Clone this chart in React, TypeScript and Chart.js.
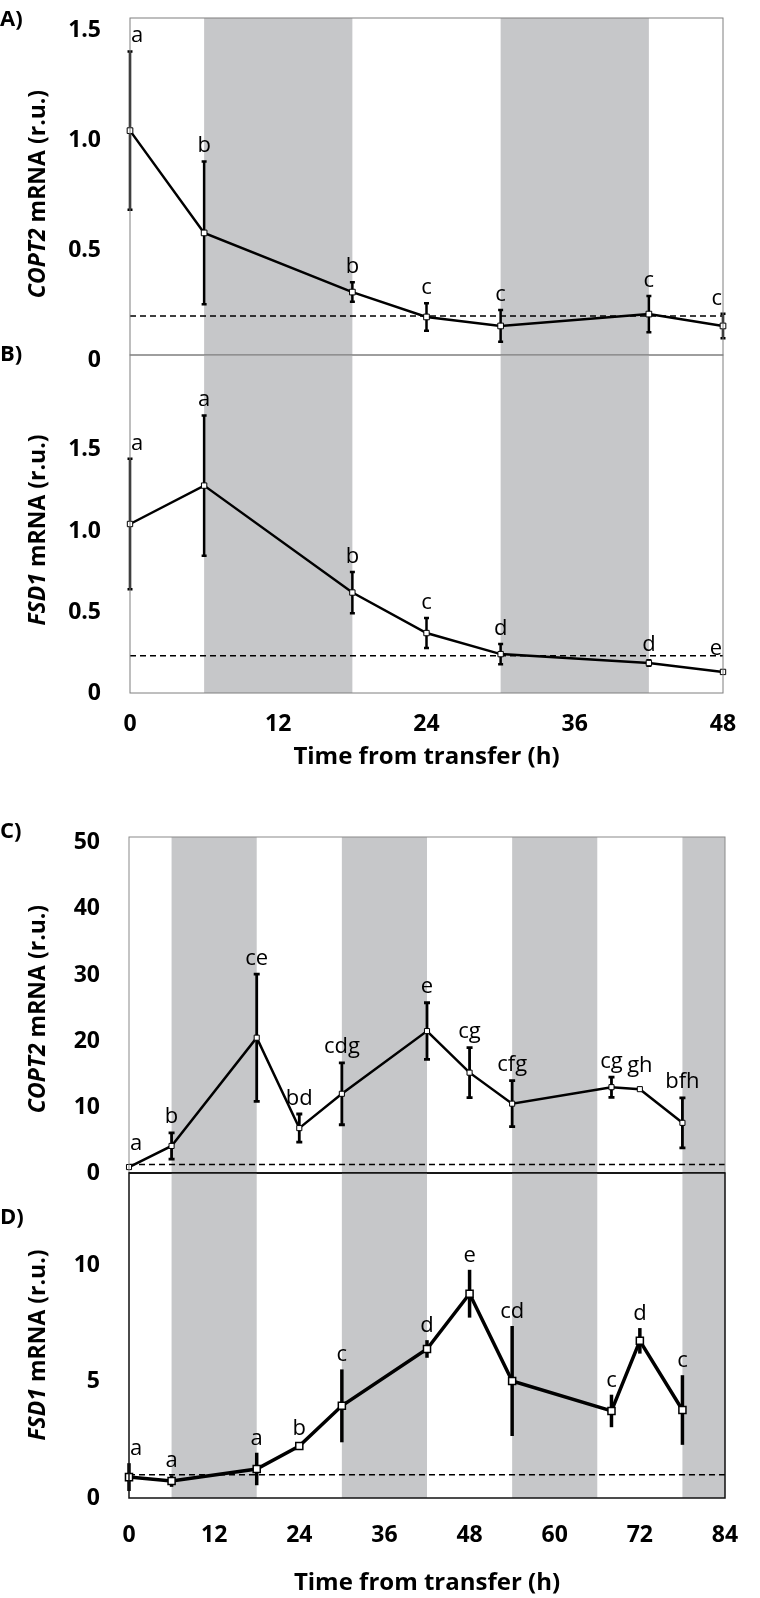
import React, { useEffect, useRef } from 'react';
import { Chart, registerables } from 'chart.js';

Chart.register(...registerables);

// ---------- Data ----------
const timeAB = [0, 6, 18, 24, 30, 42, 48];
const copt2AB = [1.02, 0.555, 0.286, 0.173, 0.132, 0.186, 0.132];
const copt2ABErr = [0.365, 0.33, 0.05, 0.068, 0.078, 0.088, 0.061];
const copt2ABLetters = ['a', 'b', 'b', 'c', 'c', 'c', 'c'];
const copt2ABRef = 0.177;

const fsd1AB = [1.043, 1.28, 0.62, 0.37, 0.24, 0.185, 0.13];
const fsd1ABErr = [0.41, 0.44, 0.135, 0.1, 0.07, 0.025, 0];
const fsd1ABLetters = ['a', 'a', 'b', 'c', 'd', 'd', 'e'];
const fsd1ABRef = 0.23;

const timeCD = [0, 6, 18, 24, 30, 42, 48, 54, 68, 72, 78];
const copt2CD = [0.9, 4.1, 20.5, 6.8, 12.0, 21.5, 15.2, 10.5, 13.0, 12.7, 7.6];
const copt2CDErr = [0, 2.2, 9.85, 2.35, 4.9, 4.5, 4.0, 3.7, 1.75, 0, 4.0];
const copt2CDLetters = ['a', 'b', 'ce', 'bd', 'cdg', 'e', 'cg', 'cfg', 'cg', 'gh', 'bfh'];
const copt2CDRef = 1.3;

const fsd1CD = [0.9, 0.73, 1.25, 2.24, 3.97, 6.42, 8.8, 5.04, 3.75, 6.77, 3.79];
const fsd1CDErr = [0.6, 0.25, 0.7, 0.15, 1.57, 0.38, 1.03, 2.37, 0.7, 0.55, 1.5];
const fsd1CDLetters = ['a', 'a', 'a', 'b', 'c', 'd', 'e', 'cd', 'c', 'd', 'c'];
const fsd1CDRef = 1.0;

const darkPeriodsAB = [[6, 18], [30, 42]];
const darkPeriodsCD = [[6, 18], [30, 42], [54, 66], [78, 84]];

const xTicksAB = [0, 12, 24, 36, 48];
const xTicksCD = [0, 12, 24, 36, 48, 60, 72, 84];
const yTicksA = [0, 0.5, 1.0, 1.5];
const yTicksB = [0, 0.5, 1.0, 1.5];
const yTicksC = [0, 10, 20, 30, 40, 50];
const yTicksD = [0, 5, 10];

const xTitle = 'Time from transfer (h)';
const yTitleRest = ' mRNA (r.u.)';

// ---------- Styles ----------
const FONT = '"Open Sans", sans-serif';
const BAND = '#c6c7c9';

type Spec = {
  top: number; height: number;
  pad: { top: number; right: number; bottom: number; left: number };
  yWidth: number; xMax: number; xTicks: number[]; showX: boolean;
  xHeight?: number; xTickPad?: number; xTitlePad?: number;
  yMax: number; yTicks: number[]; yLabelOffset: number; decimals: number;
  times: number[]; values: number[]; errs: number[]; letters: string[]; ref: number;
  bands: number[][];
  lineWidth: number; pointRadius: number; pointBorder: number; errWidth: number; capHalf: number;
  frameColor: string; frameWidth: number; bottomColor?: string; bottomWidth?: number;
  gene: string; titleCy: number; panel: string; panelCy: number;
};

const specs: Spec[] = [
  {
    top: 0, height: 375, pad: { top: 18, right: 37, bottom: 20, left: 0 },
    yWidth: 130, xMax: 48, xTicks: xTicksAB, showX: false,
    yMax: 1.532, yTicks: yTicksA, yLabelOffset: 5, decimals: 1,
    times: timeAB, values: copt2AB, errs: copt2ABErr, letters: copt2ABLetters, ref: copt2ABRef,
    bands: darkPeriodsAB, lineWidth: 2.5, pointRadius: 4, pointBorder: 1, errWidth: 2.5, capHalf: 2.5,
    frameColor: '#7f7f7f', frameWidth: 1,
    gene: 'COPT2', titleCy: 194, panel: 'A)', panelCy: 20,
  },
  {
    top: 340, height: 460, pad: { top: 15, right: 37, bottom: 0, left: 0 },
    yWidth: 130, xMax: 48, xTicks: xTicksAB, showX: true, xHeight: 107, xTickPad: 18, xTitlePad: 28,
    yMax: 2.086, yTicks: yTicksB, yLabelOffset: 0, decimals: 1,
    times: timeAB, values: fsd1AB, errs: fsd1ABErr, letters: fsd1ABLetters, ref: fsd1ABRef,
    bands: darkPeriodsAB, lineWidth: 2.5, pointRadius: 3.8, pointBorder: 1, errWidth: 2.5, capHalf: 2.5,
    frameColor: '#7f7f7f', frameWidth: 1,
    gene: 'FSD1', titleCy: 530, panel: 'B)', panelCy: 355,
  },
  {
    top: 820, height: 370, pad: { top: 17, right: 35, bottom: 17, left: 0 },
    yWidth: 129, xMax: 84, xTicks: xTicksCD, showX: false,
    yMax: 50.9, yTicks: yTicksC, yLabelOffset: 0, decimals: 0,
    times: timeCD, values: copt2CD, errs: copt2CDErr, letters: copt2CDLetters, ref: copt2CDRef,
    bands: darkPeriodsCD, lineWidth: 2.5, pointRadius: 3.6, pointBorder: 1, errWidth: 2.8, capHalf: 3,
    frameColor: '#8a8a8a', frameWidth: 1, bottomColor: '#000', bottomWidth: 1.5,
    gene: 'COPT2', titleCy: 1009, panel: 'C)', panelCy: 832,
  },
  {
    top: 1160, height: 438, pad: { top: 13, right: 35, bottom: 0, left: 0 },
    yWidth: 129, xMax: 84, xTicks: xTicksCD, showX: true, xHeight: 100, xTickPad: 24, xTitlePad: 0,
    yMax: 14, yTicks: yTicksD, yLabelOffset: 0, decimals: 0,
    times: timeCD, values: fsd1CD, errs: fsd1CDErr, letters: fsd1CDLetters, ref: fsd1CDRef,
    bands: darkPeriodsCD, lineWidth: 3.5, pointRadius: 5, pointBorder: 1.5, errWidth: 3.5, capHalf: 0,
    frameColor: '#111', frameWidth: 1.5,
    gene: 'FSD1', titleCy: 1345, panel: 'D)', panelCy: 1218,
  },
];

function makeDeco(spec: Spec) {
  return {
    id: 'deco',
    beforeDatasetsDraw(chart: any) {
      const { ctx, chartArea: a, scales } = chart;
      const x = scales.x, y = scales.y;
      ctx.save();
      ctx.fillStyle = BAND;
      for (const [s, e] of spec.bands) {
        const x0 = x.getPixelForValue(s);
        const x1 = x.getPixelForValue(e);
        ctx.fillRect(x0, a.top, x1 - x0, a.bottom - a.top);
      }
      ctx.strokeStyle = '#000';
      ctx.lineWidth = spec.errWidth;
      ctx.lineCap = 'butt';
      spec.times.forEach((t, i) => {
        const e = spec.errs[i];
        if (!e) return;
        const px = x.getPixelForValue(t);
        const yt = y.getPixelForValue(spec.values[i] + e);
        const yb = y.getPixelForValue(spec.values[i] - e);
        ctx.beginPath();
        ctx.moveTo(px, yt);
        ctx.lineTo(px, yb);
        if (spec.capHalf) {
          ctx.moveTo(px - spec.capHalf, yt + spec.errWidth / 2);
          ctx.lineTo(px + spec.capHalf, yt + spec.errWidth / 2);
          ctx.moveTo(px - spec.capHalf, yb - spec.errWidth / 2);
          ctx.lineTo(px + spec.capHalf, yb - spec.errWidth / 2);
        }
        ctx.stroke();
      });
      ctx.restore();
    },
    afterDatasetsDraw(chart: any) {
      const { ctx, chartArea: a, scales } = chart;
      const x = scales.x, y = scales.y;
      ctx.save();
      // frame
      ctx.strokeStyle = spec.frameColor;
      ctx.lineWidth = spec.frameWidth;
      ctx.strokeRect(a.left, a.top, a.right - a.left, a.bottom - a.top);
      if (spec.bottomColor) {
        ctx.strokeStyle = spec.bottomColor;
        ctx.lineWidth = spec.bottomWidth || 1;
        ctx.beginPath();
        ctx.moveTo(a.left, a.bottom);
        ctx.lineTo(a.right, a.bottom);
        ctx.stroke();
      }
      // significance letters
      ctx.fillStyle = '#000';
      ctx.font = '22px ' + FONT;
      ctx.textAlign = 'center';
      ctx.textBaseline = 'alphabetic';
      spec.times.forEach((t, i) => {
        const txt = spec.letters[i];
        const e = spec.errs[i];
        const px = x.getPixelForValue(t);
        const ty = e ? y.getPixelForValue(spec.values[i] + e) - 8 : y.getPixelForValue(spec.values[i]) - 17;
        const w = ctx.measureText(txt).width;
        const cx = Math.min(Math.max(px, a.left + w / 2 + 1), a.right - w / 2 - 1);
        ctx.fillText(txt, cx, ty);
      });
      ctx.restore();

      // y-axis title with italic gene name
      ctx.save();
      ctx.translate(38, spec.titleCy - spec.top);
      ctx.rotate(-Math.PI / 2);
      ctx.textBaseline = 'middle';
      ctx.textAlign = 'left';
      ctx.fillStyle = '#000';
      const f1 = 'italic bold 23px ' + FONT;
      const f2 = 'bold 23px ' + FONT;
      ctx.font = f1;
      const w1 = ctx.measureText(spec.gene).width;
      ctx.font = f2;
      const w2 = ctx.measureText(yTitleRest).width;
      const sx = -(w1 + w2) / 2;
      ctx.font = f1;
      ctx.fillText(spec.gene, sx, 0);
      ctx.font = f2;
      ctx.fillText(yTitleRest, sx + w1, 0);
      ctx.restore();

      // panel letter
      ctx.save();
      ctx.fillStyle = '#000';
      ctx.font = 'bold 22px ' + FONT;
      ctx.textAlign = 'left';
      ctx.textBaseline = 'middle';
      ctx.fillText(spec.panel, 0, spec.panelCy - spec.top);
      ctx.restore();
    },
  };
}

function buildConfig(spec: Spec): any {
  const tickFont = { family: FONT, size: 23, weight: 'bold' as const };
  const titleFont = { family: FONT, size: 24, weight: 'bold' as const };
  return {
    type: 'scatter',
    data: {
      datasets: [
        {
          data: spec.times.map((t, i) => ({ x: t, y: spec.values[i] })),
          showLine: true,
          borderColor: '#000',
          borderWidth: spec.lineWidth,
          pointStyle: 'rect',
          pointRadius: spec.pointRadius,
          pointBackgroundColor: '#fff',
          pointBorderColor: '#000',
          pointBorderWidth: spec.pointBorder,
          clip: false,
          tension: 0,
        },
        {
          data: [{ x: 0, y: spec.ref }, { x: spec.xMax, y: spec.ref }],
          showLine: true,
          borderColor: '#000',
          borderWidth: 1.5,
          borderDash: [6, 4],
          pointRadius: 0,
          clip: false,
        },
      ],
    },
    options: {
      responsive: false,
      animation: false,
      events: [],
      layout: { padding: spec.pad },
      plugins: { legend: { display: false }, tooltip: { enabled: false } },
      scales: {
        x: {
          type: 'linear',
          min: 0,
          max: spec.xMax,
          display: spec.showX,
          grid: { display: false, drawTicks: false },
          border: { display: false },
          afterBuildTicks: (s: any) => { s.ticks = spec.xTicks.map((v) => ({ value: v })); },
          ticks: {
            padding: spec.xTickPad || 0,
            font: tickFont,
            color: '#000',
            maxRotation: 0,
            minRotation: 0,
            autoSkip: false,
            callback: (v: any) => String(v),
          },
          title: {
            display: spec.showX,
            text: xTitle,
            font: titleFont,
            color: '#000',
            padding: { top: 0, bottom: spec.xTitlePad || 0 },
          },
          afterFit: (s: any) => {
            if (spec.xHeight) s.height = spec.xHeight;
            s.paddingLeft = 0;
            s.paddingRight = 0;
          },
        },
        y: {
          type: 'linear',
          min: 0,
          max: spec.yMax,
          grid: { display: false, drawTicks: false },
          border: { display: false },
          afterBuildTicks: (s: any) => { s.ticks = spec.yTicks.map((v) => ({ value: v })); },
          ticks: {
            padding: 29,
            labelOffset: spec.yLabelOffset,
            font: tickFont,
            color: '#000',
            autoSkip: false,
            callback: (v: any) => (Number(v) === 0 ? '0' : Number(v).toFixed(spec.decimals)),
          },
          afterFit: (s: any) => {
            s.width = spec.yWidth;
            s.paddingTop = 0;
            s.paddingBottom = 0;
          },
        },
      },
    },
    plugins: [makeDeco(spec)],
  };
}

function Panel({ spec }: { spec: Spec }) {
  const ref = useRef<HTMLCanvasElement | null>(null);
  useEffect(() => {
    if (!ref.current) return;
    const chart = new Chart(ref.current, buildConfig(spec));
    return () => chart.destroy();
  }, [spec]);
  return (
    <canvas
      ref={ref}
      width={760}
      height={spec.height}
      style={{ position: 'absolute', left: 0, top: spec.top, width: 760, height: spec.height }}
    />
  );
}

export default function App() {
  return (
    <div
      style={{
        position: 'absolute', left: 0, top: 0, width: 760, height: 1598,
        overflow: 'hidden', background: '#fff',
      }}
    >
      {specs.map((s, i) => <Panel key={i} spec={s} />)}
    </div>
  );
}
